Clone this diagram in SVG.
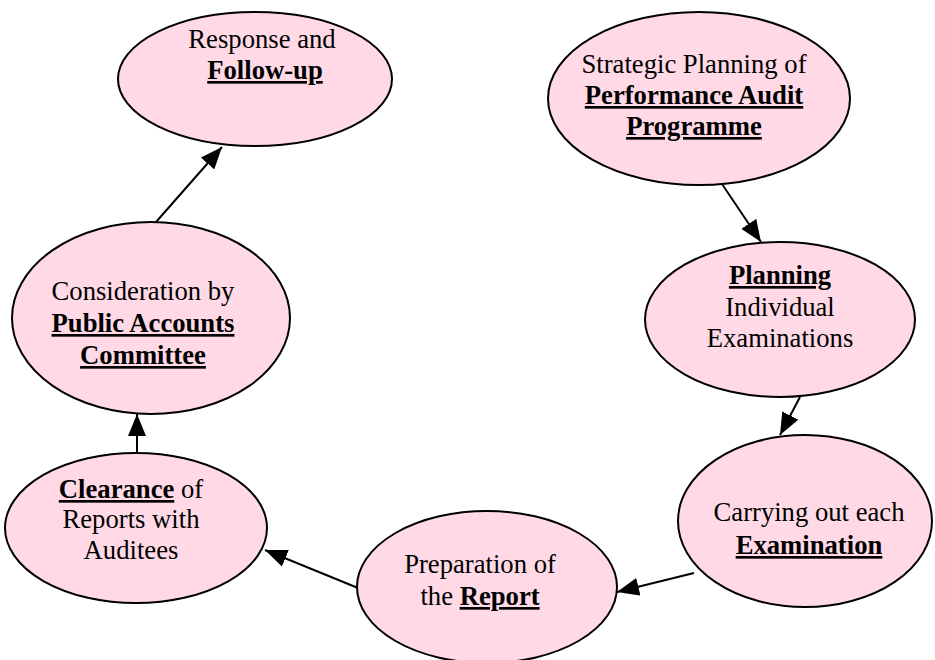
<svg xmlns="http://www.w3.org/2000/svg" width="935" height="660" viewBox="0 0 935 660">
<defs>
<style>
.node ellipse{fill:#FFDAE6;stroke:#000;stroke-width:2}
text{font-family:"Liberation Serif","Times New Roman",serif;font-size:26.67px;fill:#000;text-anchor:middle}
.b{font-weight:bold;text-decoration:underline;text-decoration-thickness:2px;text-underline-offset:4px}
.edge{stroke:#000;stroke-width:2;fill:none;marker-end:url(#ah)}
</style>
<marker id="ah" markerUnits="userSpaceOnUse" markerWidth="22" markerHeight="18" viewBox="0 0 22 18" refX="22" refY="9" orient="auto">
<path d="M0,0 L22,9 L0,18 Z" fill="#000"/>
</marker>
</defs>
<g id="connectors">
<line class="edge" x1="722" y1="184" x2="761" y2="242"/>
<line class="edge" x1="800" y1="397" x2="780" y2="435"/>
<line class="edge" x1="694" y1="573" x2="617" y2="592"/>
<line class="edge" x1="358" y1="588" x2="265" y2="550"/>
<line class="edge" x1="137" y1="453" x2="137" y2="414"/>
<line class="edge" x1="156" y1="222" x2="222" y2="147"/>
</g>
<g id="response" class="node">
<ellipse cx="255" cy="79" rx="137" ry="67"/>
<text x="262" y="48">Response and</text>
<text x="265" y="79"><tspan class="b">Follow-up</tspan></text>
</g>
<g id="strategic" class="node">
<ellipse cx="699" cy="98.5" rx="151" ry="86.5"/>
<text x="694" y="73">Strategic Planning of</text>
<text x="694" y="104"><tspan class="b">Performance Audit</tspan></text>
<text x="694" y="135"><tspan class="b">Programme</tspan></text>
</g>
<g id="planning" class="node">
<ellipse cx="780" cy="319.5" rx="135" ry="77.5"/>
<text x="780" y="284"><tspan class="b">Planning</tspan></text>
<text x="780" y="316">Individual</text>
<text x="780" y="347">Examinations</text>
</g>
<g id="carrying" class="node">
<ellipse cx="805" cy="521" rx="127" ry="86"/>
<text x="809" y="521">Carrying out each</text>
<text x="809" y="554"><tspan class="b">Examination</tspan></text>
</g>
<g id="preparation" class="node">
<ellipse cx="487" cy="587" rx="130" ry="76"/>
<text x="480" y="573">Preparation of</text>
<text x="480" y="605">the <tspan class="b">Report</tspan></text>
</g>
<g id="clearance" class="node">
<ellipse cx="136" cy="528" rx="131" ry="75"/>
<text x="131" y="498">
<tspan class="b">Clearance</tspan> of</text>
<text x="131" y="528">Reports with</text>
<text x="131" y="559">Auditees</text>
</g>
<g id="consideration" class="node">
<ellipse cx="151" cy="318" rx="139" ry="96"/>
<text x="143" y="300">Consideration by</text>
<text x="143" y="332"><tspan class="b">Public Accounts</tspan></text>
<text x="143" y="364"><tspan class="b">Committee</tspan></text>
</g>
</svg>
